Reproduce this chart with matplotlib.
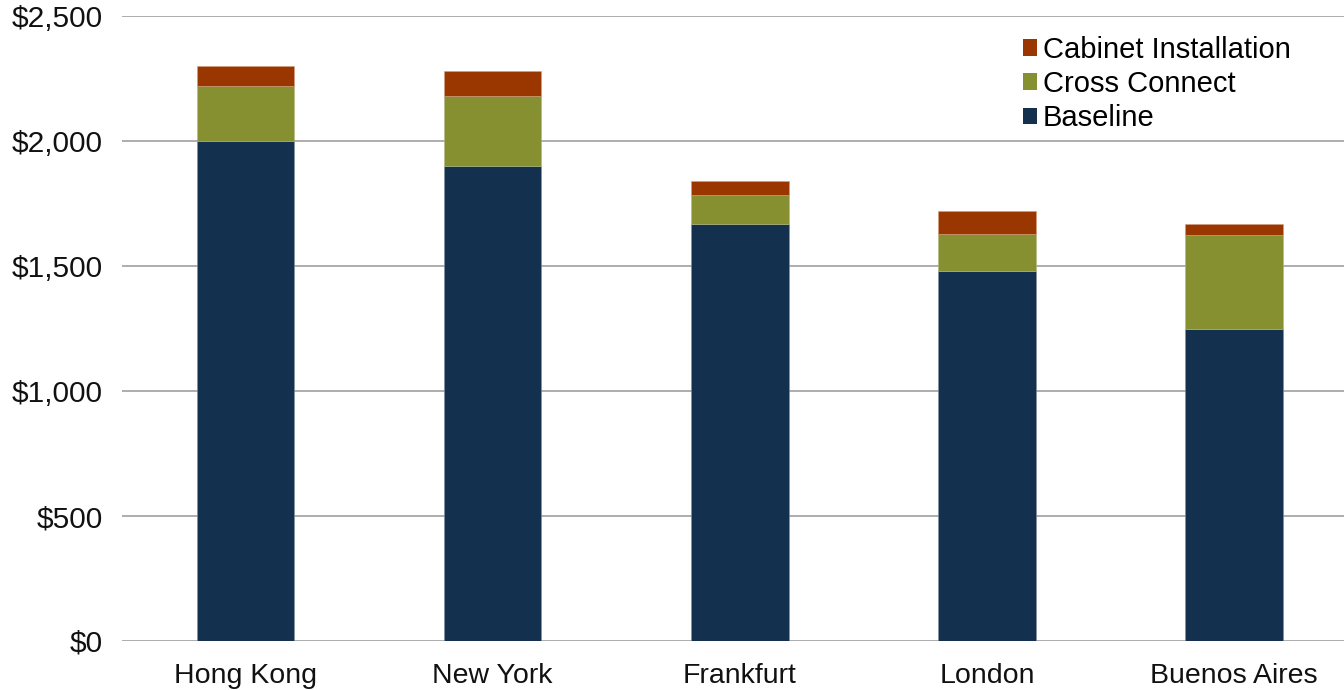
import matplotlib
matplotlib.use("Agg")
import matplotlib.pyplot as plt
from matplotlib.patches import Patch
from matplotlib.ticker import FuncFormatter

cities = ["Hong Kong", "New York", "Frankfurt", "London", "Buenos Aires"]
baseline = [2000, 1900, 1670, 1480, 1250]
cross_connect = [220, 280, 115, 150, 375]
cabinet_install = [80, 100, 55, 90, 45]

c_base = "#13304E"
c_cross = "#869030"
c_cab = "#9A3700"

plt.rcParams['font.family'] = ['Liberation Sans', 'DejaVu Sans']

fig = plt.figure(figsize=(13.44, 6.9), dpi=100)
ax = fig.add_axes([122/1344, 1-641/690, 1-122/1344, (641-16)/690])

x = list(range(len(cities)))
w = 0.395
ax.bar(x, baseline, w, color=c_base, edgecolor="#8090a0", linewidth=0.4, zorder=3)
b2 = [a for a in baseline]
ax.bar(x, cross_connect, w, bottom=b2, color=c_cross, edgecolor="#b0b880", linewidth=0.4, zorder=3)
b3 = [a + b for a, b in zip(baseline, cross_connect)]
ax.bar(x, cabinet_install, w, bottom=b3, color=c_cab, edgecolor="#d0a080", linewidth=0.4, zorder=3)

ax.set_ylim(0, 2500)
ax.set_xlim(-0.5, 4.445)
ax.set_yticks([0, 500, 1000, 1500, 2000, 2500])
ax.yaxis.set_major_formatter(FuncFormatter(lambda v, p: "${:,.0f}".format(v)))
ax.set_xticks(x)
ax.set_xticklabels(cities)
ax.tick_params(axis='both', length=0, colors="#111111")
ax.tick_params(axis='x', labelsize=20.5, pad=16)
ax.tick_params(axis='y', labelsize=21.5, pad=14)
ax.grid(axis='y', color="#a0a0a0", linewidth=1.2, zorder=0)
for s in ax.spines.values():
    s.set_visible(False)

handles = [Patch(facecolor=c_cab), Patch(facecolor=c_cross), Patch(facecolor=c_base)]
labels = ["Cabinet Installation", "Cross Connect", "Baseline"]
leg = fig.legend(handles, labels, loc="upper left",
                 bbox_to_anchor=(1011/1344, 1-24/690), frameon=False,
                 fontsize=21, handlelength=0.5, handleheight=0.5,
                 handletextpad=0.2, labelspacing=0.22, borderaxespad=0)

fig.savefig("out.png", dpi=100, facecolor="white")
